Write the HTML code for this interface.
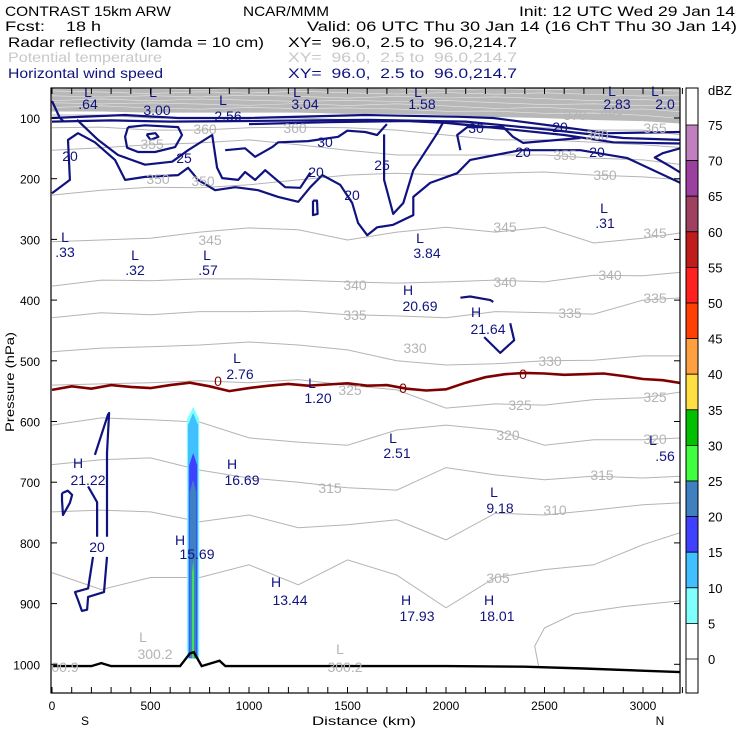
<!DOCTYPE html>
<html><head><meta charset="utf-8"><style>
html,body{margin:0;padding:0;background:#fff;}
svg{display:block;font-family:"Liberation Sans",sans-serif;}
text{white-space:pre;}
</style></head><body>
<svg id="chart" width="740" height="740" viewBox="0 0 740 740" xmlns="http://www.w3.org/2000/svg" xml:space="preserve">
<g font-size="14">
<text x="5" y="16" textLength="166" lengthAdjust="spacingAndGlyphs">CONTRAST 15km ARW</text>
<text x="243" y="16" textLength="86" lengthAdjust="spacingAndGlyphs">NCAR/MMM</text>
<text x="519" y="16" textLength="216" lengthAdjust="spacingAndGlyphs">Init: 12 UTC Wed 29 Jan 14</text>
<text x="5" y="31" textLength="40" lengthAdjust="spacingAndGlyphs">Fcst:</text>
<text x="66" y="31" textLength="35" lengthAdjust="spacingAndGlyphs">18 h</text>
<text x="307" y="31" textLength="430" lengthAdjust="spacingAndGlyphs">Valid: 06 UTC Thu 30 Jan 14 (16 ChT Thu 30 Jan 14)</text>
<text x="8" y="47" textLength="256" lengthAdjust="spacingAndGlyphs">Radar reflectivity (lamda = 10 cm)</text>
<text x="288" y="47" textLength="229" lengthAdjust="spacingAndGlyphs">XY=  96.0,  2.5 to  96.0,214.7</text>
<text x="8" y="62" fill="#c8c8c8" textLength="154" lengthAdjust="spacingAndGlyphs">Potential temperature</text>
<text x="288" y="62" fill="#c8c8c8" textLength="229" lengthAdjust="spacingAndGlyphs">XY=  96.0,  2.5 to  96.0,214.7</text>
<text x="8" y="78" fill="#10137f" textLength="155" lengthAdjust="spacingAndGlyphs">Horizontal wind speed</text>
<text x="288" y="78" fill="#10137f" textLength="229" lengthAdjust="spacingAndGlyphs">XY=  96.0,  2.5 to  96.0,214.7</text>
</g>
<defs><clipPath id="plotclip"><rect x="51" y="88" width="629" height="605"/></clipPath></defs>
<g id="plot" clip-path="url(#plotclip)"></g>
<g id="overlay"></g>
<rect x="51" y="88" width="629" height="605" fill="none" stroke="#000" stroke-width="1.2"/>
<g id="axes" font-size="12"></g>
<g id="cbar" font-size="13"></g>
</svg>
<script>
const thetaDist=[0,250,500,750,1000,1250,1500,1750,2000,2250,2500,2750,3000,3200];
const th370=[88,88,90,90,90,90,92,92,94,97,99,102,104,108];
const th365=[95,95,100,100,100,100,103,103,107,112,116,120,120,128];
const th360=[116,115,120,120,116,115,116,120,128,136,136,140,144,149];
const th355=[153,149,144,141,136,144,153,161,161,161,161,166,169,177];
const th350=[227,219,214,215,210,202,194,191,194,191,189,194,197,202];
const th345=[304,301,298,288,281,284,301,288,280,288,280,306,298,289];
const th340=[377,367,368,365,365,367,370,372,370,367,370,359,360,354];
const th335=[429,421,424,419,419,418,424,426,429,419,421,423,400,396];
const th330=[485,479,477,474,469,474,482,500,507,505,500,499,492,492];
const th325=[540,538,536,533,536,531,540,548,578,571,573,564,561,551];
const th320=[606,594,597,601,627,634,639,614,606,614,639,630,630,627];
const th315=[671,663,660,680,693,700,709,713,676,688,696,690,693,690];
const th310=[749,746,749,765,754,775,770,762,795,751,754,746,737,734];
const th305=[849,877,857,857,836,869,828,853,907,857,844,836,803,782];
const th300=[[2470,1003],[2450,970],[2500,940],[2650,917],[2900,905],[3200,895]];
const freezingDist=[0,100,200,300,400,500,600,700,800,900,1000,1100,1200,1300,1400,1500,1600,1700,1800,1900,2000,2100,2200,2300,2400,2500,2600,2700,2800,2900,3000,3100,3200];
const freezing=[548,542,546,540,543,545,540,536,542,550,545,541,538,541,539,537,541,540,546,549,547,536,527,522,520,521,523,522,521,525,530,532,537];
const terrain=[[0,1003],[200,1003],[250,998],[300,1003],[650,1003],[700,982],[720,980],[760,1003],[850,994],[880,1003],[1000,1003],[2000,1003],[2400,1004],[2700,1007],[3200,1013]];
const reflLevels=[5,10,15,20,25];
const reflLeft=[686,690,696,700,712];
const reflRight=[747,742,737,732,720];
const reflTop=[576,586,652,696,829];
const reflColors=["#80ffff","#40c0ff","#4040ff","#4080c0","#40ff40"];
const windJets=[
[[0,100],[371,95],[640,100],[996,100],[1590,95],[2073,98],[2240,100],[2545,113],[2819,125],[3190,123]],
[[0,106],[300,104],[600,106],[1000,105],[1600,103],[2100,106],[2545,120],[2900,133],[3190,136]],
[[1000,110],[1400,107],[1800,105],[2000,108],[2300,118],[2600,128],[2850,140],[3190,142]],
[[0,72],[40,100],[60,106]]];
const wind20=[[0,224],[91,202],[81,136],[132,125],[218,140],[320,169],[371,202],[472,197],[640,194],[691,182],[742,202],[828,219],[930,214],[1046,219],[1148,230],[1250,238],[1311,214],[1372,194],[1463,210],[1524,240],[1554,273],[1600,293],[1651,280],[1732,276],[1834,260],[1834,230],[1920,207],[2057,191],[2123,169],[2377,153],[2682,153],[2921,166],[3190,207]];
const wind20r=[[3190,150],[3100,158],[3060,165],[3140,180],[3190,190]];
const wind25a=[[127,103],[234,136],[335,161],[472,177],[610,172],[691,153],[813,128],[838,182],[864,199],[945,202],[980,189],[1031,202],[1082,186],[1184,214],[1260,215],[1311,190]];
const wind25b=[[1686,127],[1686,157],[1686,202],[1732,258],[1783,240],[1803,219],[1834,186],[1956,125],[1986,107]];
const wind30a=[[386,115],[472,112],[640,115],[660,128],[625,148],[523,156],[437,156],[381,149],[371,131],[386,115]];
const wind35=[[480,127],[525,125],[540,131],[500,136],[480,127]];
const wind30b=[[879,153],[980,150],[1031,164],[1118,148],[1148,140],[1300,138],[1453,131],[1499,121],[1590,123],[1650,128],[1700,110]];
const wind30c=[[2073,153],[2057,128],[2108,115],[2290,115],[2340,131],[2392,141],[2682,133]];
const windSmall=[[1325,236],[1345,236],[1348,258],[1325,260],[1325,236]];
const wind21a=[[2073,396],[2123,394],[2225,400],[2240,403]];
const wind21b=[[2326,438],[2346,466],[2275,487],[2194,461]];
const windLa=[[218,655],[284,589],[290,586],[279,652],[279,790]];
const windLb=[[183,707],[229,733],[229,790]];
const windLc=[[279,823],[264,881],[183,889],[178,910],[152,912],[132,894],[117,881],[183,875],[208,823]];
const windLd=[[51,718],[80,714],[102,721],[91,734],[56,754],[51,730],[51,718]];
const pTicks=[100,200,300,400,500,600,700,800,900,1000];
const dTicks=[0,500,1000,1500,2000,2500,3000];
const cbLevels=[75,70,65,60,55,50,45,40,35,30,25,20,15,10,5,0];
const cbColors=["#c080c0","#9c40a0","#a04060","#c01c1c","#ff2020","#ff4000","#ffa040","#ffe040","#00c000","#40ff40","#4080c0","#4040ff","#40c0ff","#80ffff","#ffffff"];

const NS="http://www.w3.org/2000/svg";
const X=d=>52+d*0.197;
const P=p=>118+(p-100)*0.607;
const plot=document.getElementById('plot');
const overlay=document.getElementById('overlay');
function mk(tag,attrs,parent){const e=document.createElementNS(NS,tag);for(const k in attrs)e.setAttribute(k,attrs[k]);parent.appendChild(e);return e;}
function ptsStr(pairs){return pairs.map(q=>X(q[0]).toFixed(1)+","+P(q[1]).toFixed(1)).join(" ");}
function rowPairs(arr){return thetaDist.map((d,i)=>[d,arr[i]]);}

// top gray band
let band=[[0,30]].concat(rowPairs(th370)).concat([[3200,30]]);
let bp=mk('polygon',{points:ptsStr(band),fill:'#b8b8b8',stroke:'#b8b8b8','stroke-width':1.5},plot);


for(let k=1;k<=6;k++){
  const pr=thetaDist.map((d,i)=>[d,th370[i]-(th370[i]-45)*k/7+((i*7+k*3)%5-2)]);
  const l=mk('polyline',{points:ptsStr(pr),fill:'none',stroke:'#e6e6e6','stroke-width':0.6},plot);
  
  
}
// theta contours
const thetaSets=[th365,th360,th355,th350,th345,th340,th335,th330,th325,th320,th315,th310,th305];
thetaSets.forEach(arr=>{
  const l=mk('polyline',{points:ptsStr(rowPairs(arr)),fill:'none',stroke:'#b4b4b4','stroke-width':1},plot);
  
  
});
const t3=mk('polyline',{points:ptsStr(th300),fill:'none',stroke:'#b4b4b4','stroke-width':1},plot);



// reflectivity column
reflLevels.forEach((lv,i)=>{
  const c=(reflLeft[i]+reflRight[i])/2;
  const pr=[[reflLeft[i],990],[reflLeft[i],reflTop[i]+20],[c,reflTop[i]],[reflRight[i],reflTop[i]+20],[reflRight[i],990]];
  const pg=mk('polygon',{points:ptsStr(pr),fill:reflColors[i]},plot);
  
  
});

// freezing line
const fz=mk('polyline',{points:ptsStr(freezingDist.map((d,i)=>[d,freezing[i]])),fill:'none',stroke:'#800000','stroke-width':2.6},plot);



// wind contours
const windAll=windJets.concat([wind20,wind20r,wind25a,wind25b,wind30a,wind35,wind30b,wind30c,windSmall,wind21a,wind21b,windLa,windLb,windLc,windLd]);
windAll.forEach(arr=>{
  const l=mk('polyline',{points:ptsStr(arr),fill:'none',stroke:'#10137f','stroke-width':2.2,'stroke-linejoin':'round'},plot);
  
  
});

// terrain
const tr=mk('polyline',{points:ptsStr(terrain),fill:'none',stroke:'#000','stroke-width':2.4},plot);



// labels
function lab(txt,x,y,col,name){const t=mk('text',{x:x,y:y,fill:col,'font-size':14,'text-anchor':'middle'},overlay);t.textContent=txt;

}
const navy='#10137f', gray='#b4b4b4';
const grayLabels=[["360",205,134],["360",295,133],["355",152,149],["350",158,184],["350",203,186],["345",210,245],["345",505,232],["345",655,238],["340",355,290],["340",505,287],["340",610,280],["335",355,320],["335",570,318],["335",655,303],["330",415,353],["330",550,366],["325",350,395],["325",520,410],["325",655,402],["320",508,440],["320",655,444],["315",330,493],["315",602,480],["310",555,515],["305",498,583],["370",575,120],["380",612,115],["365",655,133],["360",597,140],["355",565,160],["350",605,180],["300.2",155,659],["300.2",345,672],["L",143,642],["L",340,654],["00.9",65,672]];
grayLabels.forEach(g=>lab(g[0],g[1],g[2],gray,'theta-label'));
const navyLabels=[["L",88,97],[".64",88,109],["L",153,97],["3.00",157,115],["L",223,105],["2.56",228,121],["L",297,97],["3.04",305,109],["L",418,97],["1.58",422,109],["L",612,96],["2.83",617,109],["L",655,96],["2.0",665,109],
["L",65,242],[".33",65,257],["L",135,260],[".32",135,275],["L",207,260],[".57",208,275],["L",237,363],["2.76",240,379],["L",312,388],["1.20",318,403],["L",420,243],["3.84",427,258],["L",604,213],[".31",605,228],["H",408,295],["20.69",420,311],["H",476,317],["21.64",488,334],["L",393,443],["2.51",397,458],["L",653,445],[".56",665,461],["H",78,468],["21.22",88,485],["H",232,469],["16.69",242,485],["H",180,545],["15.69",197,559],["H",276,587],["13.44",290,605],["H",406,605],["17.93",417,621],["H",489,605],["18.01",497,621],["L",494,497],["9.18",500,513],
["20",70,161],["25",184,163],["30",325,147],["20",316,177],["20",352,200],["25",382,170],["20",523,157],["20",597,157],["30",476,133],["20",560,132],["20",97,552]];
navyLabels.forEach(g=>lab(g[0],g[1],g[2],navy,'wind-label'));
lab("0",218,386,'#800000','freezing-label');
lab("0",403,393,'#800000','freezing-label');
lab("0",523,379,'#800000','freezing-label');

// axes
const axes=document.getElementById('axes');
pTicks.forEach(p=>{
  const y=P(p);
  const t=mk('line',{x1:51,y1:y,x2:57,y2:y,stroke:'#000'},axes);
  
  
  const t2=mk('line',{x1:674,y1:y,x2:680,y2:y,stroke:'#000'},axes);
  
  
  const tx=mk('text',{x:40,y:y+5,'text-anchor':'end'},axes);tx.textContent=p;
  
  
});
for(let d=0;d<=3200;d+=100){
  const x=X(d);
  const t=mk('line',{x1:x,y1:693,x2:x,y2:687,stroke:'#000'},axes);
  
  
  const t2=mk('line',{x1:x,y1:88,x2:x,y2:94,stroke:'#000'},axes);
  
  
}
dTicks.forEach(d=>{
  const tx=mk('text',{x:X(d),y:710,'text-anchor':'middle'},axes);tx.textContent=d;
  
  
});
[["S",85,725,'x-axis-south'],["N",660,725,'x-axis-north']].forEach(a=>{
  const tx=mk('text',{x:a[1],y:a[2],'text-anchor':'middle'},axes);tx.textContent=a[0];
  
  
});
const xt=mk('text',{x:364,y:725,'text-anchor':'middle',textLength:104,lengthAdjust:'spacingAndGlyphs'},axes);xt.textContent="Distance (km)";


const yt=mk('text',{x:0,y:0,'text-anchor':'middle',transform:'translate(14,382) rotate(-90)',textLength:100,lengthAdjust:'spacingAndGlyphs'},axes);yt.textContent="Pressure (hPa)";



// colorbar
const cb=document.getElementById('cbar');
const cy=v=>659-v*7.12;
const top0=mk('rect',{x:686,y:88,width:12,height:cy(75)-88,fill:'#fff'},cb);


cbColors.forEach((c,i)=>{
  const y1=cy(cbLevels[i]), y2=(i+1<cbLevels.length)?cy(cbLevels[i+1]):693;
  const r=mk('rect',{x:686,y:y1,width:12,height:y2-y1,fill:c,stroke:'#000','stroke-width':0.8},cb);
  
  
});
const cbf=mk('rect',{x:686,y:88,width:12,height:605,fill:'none',stroke:'#000','stroke-width':1},cb);


cbLevels.forEach(v=>{
  const tx=mk('text',{x:708,y:cy(v)+5},cb);tx.textContent=v;
  
  
});
const unit=mk('text',{x:708,y:95},cb);unit.textContent="dBZ";


</script>
</body></html>
